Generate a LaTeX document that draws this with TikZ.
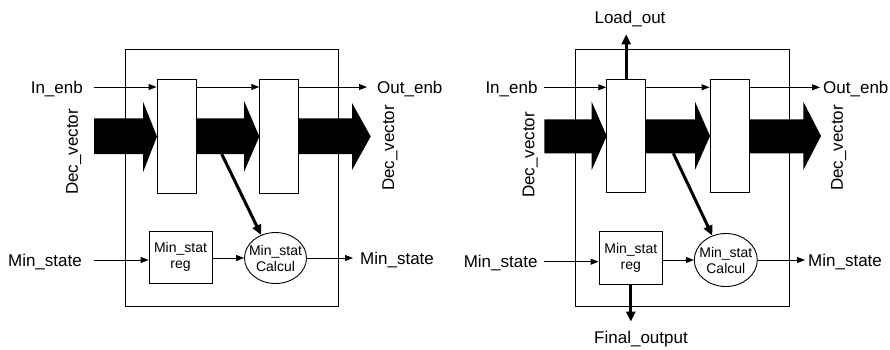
\documentclass[tikz,border=0pt]{standalone}
\usepackage{fontspec}
\setmainfont{Liberation Sans}
\usetikzlibrary{arrows.meta,shapes.geometric}
\begin{document}
\begin{tikzpicture}[x=1pt,y=-1pt,
 lbl/.style={font=\fontsize{17}{20}\selectfont, inner sep=0pt, text height=12.2pt, text depth=0pt},
 small/.style={font=\fontsize{14}{16}\selectfont, align=center, inner sep=0pt},
 frame/.style={draw, line width=0.9pt, inner sep=0pt},
 regbox/.style={draw, line width=0.9pt, fill=white, minimum width=39pt, minimum height=113.5pt, inner sep=0pt},
 statbox/.style={draw, line width=0.9pt, fill=white, minimum width=63pt, minimum height=52pt, inner sep=0pt},
 calcell/.style={ellipse, draw, line width=0.9pt, fill=white, minimum width=62pt, minimum height=51pt, inner sep=0pt},
 arr/.style={line width=0.9pt, -{Triangle[length=8pt,width=6pt]}},
 thk/.style={line width=3pt, -{Triangle[length=10pt,width=9pt]}},
 blk/.style={fill=black}]
\useasboundingbox (0,0) rectangle (890,349);

% ---------------- left diagram ----------------
\node[frame, minimum width=212.6pt, minimum height=257pt] (aBox) at (232,177.5) {};
\fill[blk] (94,118.3) -- (143,118.3) -- (143,101.7) -- (157,136.5) -- (143,172.3) -- (143,154) -- (94,154) -- cycle;
\fill[blk] (195.7,118.3) -- (244,118.3) -- (244,100.7) -- (259.3,136.5) -- (244,172) -- (244,154) -- (195.7,154) -- cycle;
\fill[blk] (299,118.3) -- (352,118.3) -- (352,103) -- (370.7,136.5) -- (352,170) -- (352,154) -- (299,154) -- cycle;
\node[regbox] (aR1) at (176.5,136.2) {};
\node[regbox] (aR2) at (279.2,136.2) {};
\node[statbox, small] (aM) at (180.5,257.3) {Min\_stat\\reg};
\node[calcell] (aC) at (275.5,258) {};
\node[small] (aCt) at (aC) {Min\_stat\\Calcul};

\node[lbl, anchor=east] (aIn) at (83,87) {In\_enb};
\node[lbl, anchor=west] (aOut) at (377,87) {Out\_enb};
\node[lbl, anchor=east] (aMinIn) at (82,260) {Min\_state};
\node[lbl, anchor=west] (aMinOut) at (360,258) {Min\_state};
\node[lbl, rotate=90] (aDv1) at (71.7,152) {Dec\_vector};
\node[lbl, rotate=90] (aDv2) at (388,148) {Dec\_vector};

\draw[arr] ([xshift=11pt]aIn.east) -- (aIn.east -| aR1.west);
\draw[arr] (aR1.east |- aIn.east) -- (aR2.west |- aIn.east);
\draw[arr] (aR2.east |- aOut.west) -- ([xshift=-10pt]aOut.west);
\draw[arr] ([xshift=12pt]aMinIn.east) -- (aMinIn.east -| aM.west);
\draw[arr] (aM.east |- aC.west) -- (aC.west);
\draw[arr] (aC.east) -- ([xshift=-7pt]aMinOut.west);
\coordinate (aD) at (221.7,154);
\draw[thk] (aD) -- (aC.122);

% ---------------- right diagram ----------------
\node[frame, minimum width=214pt, minimum height=256.7pt] (bBox) at (682,177.65) {};
\fill[blk] (544.3,119.3) -- (591.7,119.3) -- (591.7,101.7) -- (606.7,136) -- (591.7,170) -- (591.7,153.3) -- (544.3,153.3) -- cycle;
\fill[blk] (645.7,119.3) -- (695,119.3) -- (695,101.7) -- (710,136) -- (695,170) -- (695,153.3) -- (645.7,153.3) -- cycle;
\fill[blk] (749,119.3) -- (803.3,119.3) -- (803.3,101.7) -- (821,136) -- (803.3,170) -- (803.3,153.3) -- (749,153.3) -- cycle;
\node[regbox, minimum height=113.4pt] (bR1) at (626.2,136) {};
\node[regbox, minimum height=113.4pt] (bR2) at (729.5,136) {};
\node[statbox, small, minimum width=63.7pt, minimum height=52.3pt] (bM) at (630.85,257.85) {Min\_stat\\reg};
\node[calcell, minimum width=63pt, minimum height=53pt] (bC) at (725.8,260) {};
\node[small] (bCt) at (bC) {Min\_stat\\Calcul};

\node[lbl, anchor=east] (bIn) at (537.7,87.3) {In\_enb};
\node[lbl, anchor=west] (bOut) at (823,87.3) {Out\_enb};
\node[lbl, anchor=east] (bMinIn) at (537.7,261.7) {Min\_state};
\node[lbl, anchor=west] (bMinOut) at (808,260) {Min\_state};
\node[lbl, rotate=90] (bDv1) at (528.3,155) {Dec\_vector};
\node[lbl, rotate=90] (bDv2) at (836.7,148) {Dec\_vector};
\node[lbl] (bLoad) at (630,17.3) {Load\_out};
\node[lbl] (bFin) at (641,337) {Final\_output};

\draw[arr] ([xshift=6pt]bIn.east) -- (bIn.east -| bR1.west);
\draw[arr] (bR1.east |- bIn.east) -- (bR2.west |- bIn.east);
\draw[arr] (bR2.east |- bOut.west) -- ([xshift=-3pt]bOut.west);
\draw[arr] ([xshift=6.6pt]bMinIn.east) -- (bMinIn.east -| bM.west);
\draw[arr] (bM.east |- bC.west) -- (bC.west);
\draw[arr] (bC.east) -- ([xshift=-3pt]bMinOut.west);
\coordinate (bLo) at (626.2,34.3);
\draw[thk] (bR1.north) -- (bLo);
\coordinate (bFo) at (630.85,321.7);
\draw[thk] (bM.south) -- (bFo);
\coordinate (bD) at (673.3,153.3);
\draw[thk] (bD) -- (bC.119);
\end{tikzpicture}
\end{document}
